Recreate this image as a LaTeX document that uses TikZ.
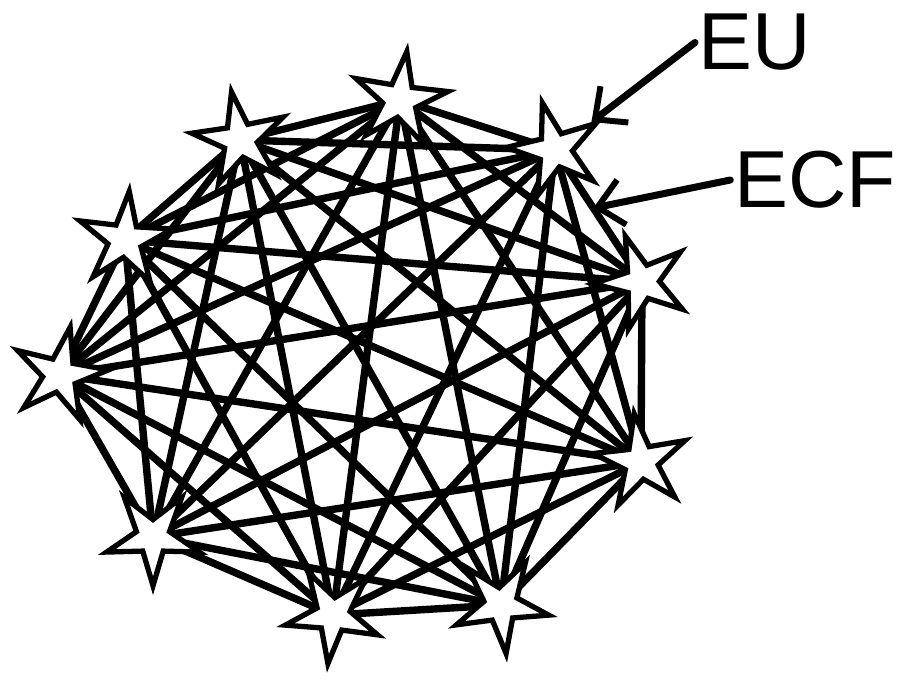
\documentclass[tikz,border=0pt]{standalone}
\usepackage{fontspec}
\setmainfont{Liberation Sans}
\usetikzlibrary{arrows.meta,positioning,shapes.geometric,backgrounds,calc}

\begin{document}
\begin{tikzpicture}[
  hub/.style={star, star points=5, star point ratio=2.8, minimum size=1.95cm,
              fill=white, draw=black, line width=3pt, inner sep=0pt},
  tie/.style={black, line width=4.2pt, line cap=round},
  tag arrow/.style={-{Straight Barb[length=14pt, width=26pt, line width=3.4pt]},
                    black, line width=4pt, line cap=round},
  tag/.style={font=\fontsize{46}{46}\selectfont, inner sep=2pt}
]
  \useasboundingbox (0,0) rectangle (18.16,13.7);

  % stars
  \node[hub, rotate=10]  (a) at (4.8,10.9)   {};
  \node[hub, rotate=-8]  (b) at (8.0,11.7)   {};
  \node[hub, rotate=15]  (c) at (11.1,10.7)  {};
  \node[hub, rotate=-5]  (d) at (2.5,8.9)    {};
  \node[hub, rotate=20]  (e) at (12.84,8.06) {};
  \node[hub, rotate=-12] (f) at (1.2,6.2)    {};
  \node[hub, rotate=8]   (g) at (12.82,4.46) {};
  \node[hub, rotate=36]  (h) at (3.06,2.96)  {};
  \node[hub, rotate=30]  (i) at (6.66,1.4)   {};
  \node[hub, rotate=-30] (j) at (10.02,1.6)  {};

  % every star tied to every other star
  \begin{scope}[on background layer]
    \foreach \p [count=\n] in {a,b,c,d,e,f,g,h,i,j}{
      \foreach \q [count=\m] in {a,b,c,d,e,f,g,h,i,j}{
        \ifnum\m>\n \draw[tie] (\p.center) -- (\q.center); \fi
      }
    }
  \end{scope}

  % labels
  \node[tag] (eu)  at (15.1,12.85) {EU};
  \node[tag] (ecf) at (16.3,10.1)   {ECF};
  \coordinate (ce) at ($(c)!0.44!(e)$);

  \draw[tag arrow] (eu.west) -- (c);
  \draw[tag arrow] (ecf.west) -- (ce);
\end{tikzpicture}
\end{document}
